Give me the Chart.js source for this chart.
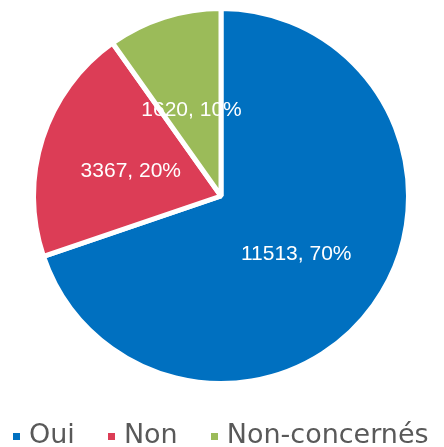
<!DOCTYPE html>
<html>
<head>
<meta charset="utf-8">
<script src="https://cdn.jsdelivr.net/npm/chart.js@4"></script>
<style>
  html, body { margin: 0; padding: 0; background: #fff; }
  #wrap { position: relative; width: 444px; height: 447px; }
  #legend { position: absolute; left: 13px; top: 420px; display: flex; align-items: baseline;
    font-family: "DejaVu Sans", sans-serif; font-size: 27px; line-height: 27px; color: #595959; white-space: nowrap; }
  .item { display: flex; align-items: baseline; margin-right: 33px; }
  .box { display: inline-block; width: 7px; height: 7px; margin-right: 9px; position: relative; top: -3px; }
</style>
</head>
<body>
<div id="wrap">
  <canvas id="c" width="444" height="447"></canvas>
  <div id="legend"></div>
</div>
<script>
const categories = ["Oui", "Non", "Non-concernés"];
const values = [11513, 3367, 1620];
const percentLabels = ["70%", "20%", "10%"];
const colors = ["#0070C0", "#DC3D56", "#9BBB59"];

const labelPlugin = {
  id: 'sliceLabels',
  afterDatasetsDraw(chart) {
    const ctx = chart.ctx;
    const meta = chart.getDatasetMeta(0);
    ctx.save();
    ctx.fillStyle = '#ffffff';
    ctx.font = '21px "Liberation Sans", Arial, sans-serif';
    ctx.textAlign = 'center';
    ctx.textBaseline = 'middle';
    meta.data.forEach((arc, i) => {
      const p = arc.tooltipPosition();
      ctx.fillText(values[i] + ', ' + percentLabels[i], p.x - 1, p.y + 4);
    });
    ctx.restore();
  }
};

new Chart(document.getElementById('c'), {
  type: 'pie',
  data: {
    labels: categories,
    datasets: [{
      data: values,
      backgroundColor: colors,
      borderColor: '#ffffff',
      borderWidth: 5
    }]
  },
  options: {
    responsive: false,
    animation: false,
    radius: 187.5,
    layout: { padding: { left: 0, right: 2, top: 0, bottom: 55 } },
    plugins: { legend: { display: false }, tooltip: { enabled: false } }
  },
  plugins: [labelPlugin]
});

const legend = document.getElementById('legend');
categories.forEach((name, i) => {
  const item = document.createElement('span');
  item.className = 'item';
  const box = document.createElement('span');
  box.className = 'box';
  box.style.background = colors[i];
  item.appendChild(box);
  item.appendChild(document.createTextNode(name));
  legend.appendChild(item);
});
</script>
</body>
</html>
